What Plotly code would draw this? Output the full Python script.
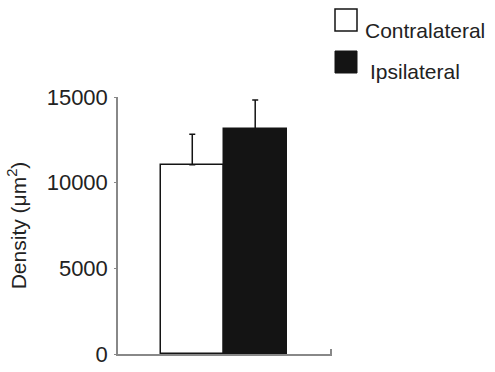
import plotly.graph_objects as go

groups = ["Contralateral", "Ipsilateral"]
means = [11050, 13130]
errors_up = [1780, 1700]
fill_colors = ["#ffffff", "#141414"]
y_ticks = [0, 5000, 10000, 15000]
y_tick_text = ["0", "5000", "10000", "15000"]
y_title = "Density (μm<sup>2</sup>)"

fig = go.Figure()
for i, (g, m, e, c) in enumerate(zip(groups, means, errors_up, fill_colors)):
    fig.add_trace(go.Bar(
        x=[i], y=[m], width=1.0, name=g, showlegend=False,
        marker=dict(color=c, line=dict(color="#141414", width=1.5)),
        error_y=dict(type="data", symmetric=False, array=[e], arrayminus=[0],
                     color="#141414", thickness=1.5, width=3),
    ))

fig.update_layout(
    width=495, height=372,
    margin=dict(l=118, r=163, t=97, b=18),
    paper_bgcolor="white", plot_bgcolor="white",
    font=dict(family="Liberation Sans, Arial", color="#222"),
    bargap=0,
    xaxis=dict(range=[-1.18, 2.22], showgrid=False, zeroline=False, automargin=False,
               showline=True, linecolor="#888", linewidth=1.5,
               tickmode="array", tickvals=[2.2], ticks="inside", ticklen=5,
               tickcolor="#888", tickwidth=1.5, showticklabels=False),
    yaxis=dict(range=[0, 15000], showgrid=False, zeroline=False, automargin=False,
               showline=True, linecolor="#888", linewidth=1.5,
               tickmode="array", tickvals=y_ticks, ticktext=y_tick_text,
               ticks="outside", ticklen=2, ticklabelstandoff=2,
               tickcolor="#888", tickfont=dict(size=22, color="#222"),
               title=dict(text=y_title, font=dict(size=21, color="#222"), standoff=14)),
)

# legend drawn manually
fig.add_shape(type="rect", xref="paper", yref="paper",
              x0=(335 - 118) / 214, x1=(357 - 118) / 214,
              y0=(354 - 31) / 257, y1=(354 - 9) / 257,
              line=dict(color="#141414", width=1.5), fillcolor="white")
fig.add_shape(type="rect", xref="paper", yref="paper",
              x0=(335 - 118) / 214, x1=(357 - 118) / 214,
              y0=(354 - 73) / 257, y1=(354 - 51) / 257,
              line=dict(color="#141414", width=1), fillcolor="#141414")
fig.add_annotation(text=groups[0], xref="paper", yref="paper",
                   x=(363 - 118) / 214, y=(354 - 30) / 257, xanchor="left", yanchor="middle",
                   showarrow=False, font=dict(size=21, color="#222"))
fig.add_annotation(text=groups[1], xref="paper", yref="paper",
                   x=(368 - 118) / 214, y=(354 - 72) / 257, xanchor="left", yanchor="middle",
                   showarrow=False, font=dict(size=21, color="#222"))

fig.write_html("out.html", config={"displayModeBar": False},
               post_script="document.body.style.margin='0';")
